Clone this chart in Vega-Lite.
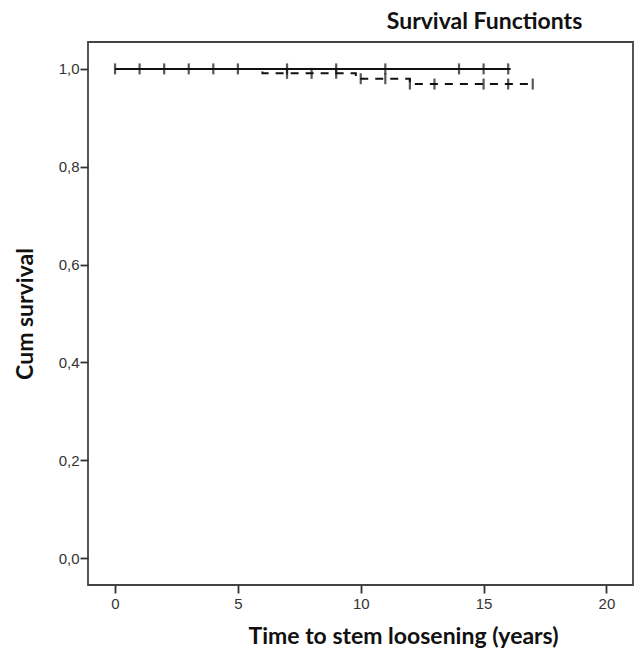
{
  "$schema": "https://vega.github.io/schema/vega-lite/v6.json",
  "width": 545,
  "height": 543,
  "autosize": "none",
  "padding": {"left": 88, "top": 42, "right": 2, "bottom": 64},
  "background": "white",
  "title": {
    "text": "Survival Functionts",
    "anchor": "middle",
    "frame": "group",
    "dx": 124,
    "offset": 8,
    "font": "Lato",
    "fontSize": 23,
    "fontWeight": "bold",
    "color": "#111"
  },
  "config": {
    "view": {"stroke": "#444", "strokeWidth": 1.8},
    "axis": {
      "grid": false,
      "domain": false,
      "tickColor": "#333",
      "tickSize": 8,
      "tickWidth": 1.8,
      "labelFont": "Liberation Sans",
      "labelFontSize": 15,
      "labelColor": "#333",
      "titleFont": "Lato",
      "titleFontSize": 23,
      "titleFontWeight": "bold",
      "titleColor": "#111"
    }
  },
  "data": {
    "values": [
      {"group": "A", "kind": "step", "time": 0, "surv": 1},
      {"group": "A", "kind": "step", "time": 16.1, "surv": 1},
      {"group": "B", "kind": "step", "time": 0, "surv": 1},
      {"group": "B", "kind": "step", "time": 6, "surv": 0.991},
      {"group": "B", "kind": "step", "time": 9.8, "surv": 0.98},
      {"group": "B", "kind": "step", "time": 12, "surv": 0.969},
      {"group": "B", "kind": "step", "time": 17, "surv": 0.969},
      {"group": "A", "kind": "censor", "time": 0, "surv": 1},
      {"group": "A", "kind": "censor", "time": 1, "surv": 1},
      {"group": "A", "kind": "censor", "time": 2, "surv": 1},
      {"group": "A", "kind": "censor", "time": 3, "surv": 1},
      {"group": "A", "kind": "censor", "time": 4, "surv": 1},
      {"group": "A", "kind": "censor", "time": 5, "surv": 1},
      {"group": "A", "kind": "censor", "time": 7, "surv": 1},
      {"group": "A", "kind": "censor", "time": 9, "surv": 1},
      {"group": "A", "kind": "censor", "time": 11, "surv": 1},
      {"group": "A", "kind": "censor", "time": 14, "surv": 1},
      {"group": "A", "kind": "censor", "time": 15, "surv": 1},
      {"group": "A", "kind": "censor", "time": 16, "surv": 1},
      {"group": "B", "kind": "censor", "time": 7, "surv": 0.991},
      {"group": "B", "kind": "censor", "time": 8, "surv": 0.991},
      {"group": "B", "kind": "censor", "time": 9, "surv": 0.991},
      {"group": "B", "kind": "censor", "time": 10, "surv": 0.98},
      {"group": "B", "kind": "censor", "time": 11, "surv": 0.98},
      {"group": "B", "kind": "censor", "time": 12, "surv": 0.969},
      {"group": "B", "kind": "censor", "time": 13, "surv": 0.969},
      {"group": "B", "kind": "censor", "time": 15, "surv": 0.969},
      {"group": "B", "kind": "censor", "time": 16, "surv": 0.969},
      {"group": "B", "kind": "censor", "time": 17, "surv": 0.969}
    ]
  },
  "encoding": {
    "x": {
      "field": "time",
      "type": "quantitative",
      "scale": {"domain": [-1.1, 21.08], "nice": false, "zero": false},
      "axis": {
        "values": [0, 5, 10, 15, 20],
        "title": "Time to stem loosening (years)",
        "labelPadding": 3,
        "titleX": 315,
        "titleY": 58,
        "titleBaseline": "alphabetic"
      }
    },
    "y": {
      "field": "surv",
      "type": "quantitative",
      "scale": {"domain": [-0.055, 1.055], "nice": false, "zero": false},
      "axis": {
        "values": [0, 0.2, 0.4, 0.6, 0.8, 1.0],
        "labelExpr": "replace(format(datum.value, '.1f'), '.', ',')",
        "title": "Cum survival",
        "labelPadding": 1,
        "titleX": -56,
        "titleBaseline": "alphabetic"
      }
    }
  },
  "layer": [
    {
      "transform": [{"filter": "datum.kind === 'step' && datum.group === 'B'"}],
      "mark": {"type": "line", "interpolate": "step-after", "color": "#111", "strokeWidth": 2, "strokeDash": [8, 7]}
    },
    {
      "transform": [{"filter": "datum.kind === 'step' && datum.group === 'A'"}],
      "mark": {"type": "line", "interpolate": "step-after", "color": "#111", "strokeWidth": 2}
    },
    {
      "transform": [{"filter": "datum.kind === 'censor'"}],
      "mark": {"type": "tick", "orient": "vertical", "color": "#111", "size": 11, "thickness": 2.2}
    }
  ]
}
